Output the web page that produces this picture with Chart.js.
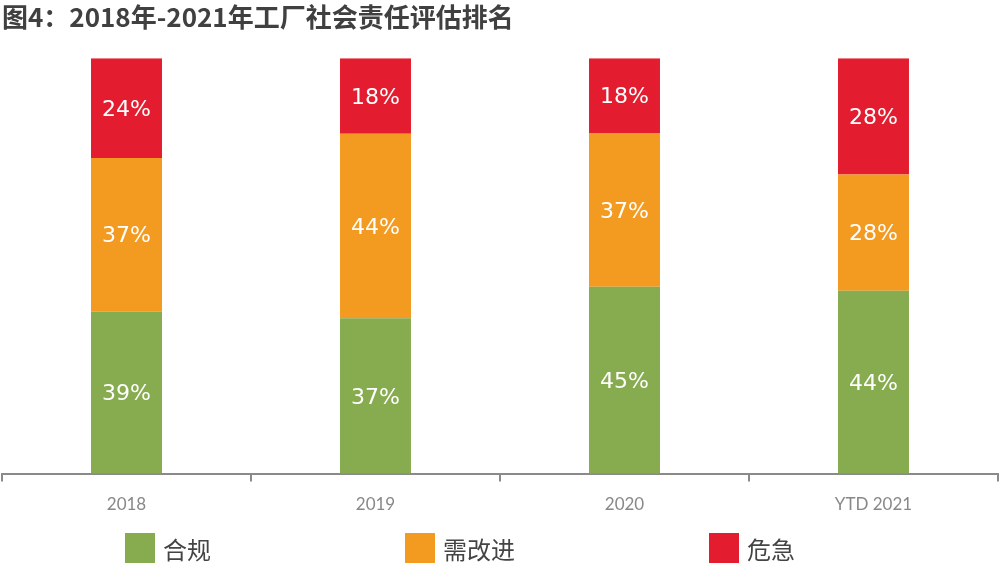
<!DOCTYPE html>
<html lang="zh">
<head>
<meta charset="utf-8">
<title>2018年-2021年工厂社会责任评估排名</title>
<script src="https://cdn.jsdelivr.net/npm/chart.js@4/dist/chart.umd.min.js"></script>
<style>
  html, body { margin: 0; padding: 0; background: #fff; }
  #wrap { position: relative; width: 1000px; height: 565px; overflow: hidden; }
  #legend {
    position: absolute; left: 125px; top: 533px;
    display: flex; gap: 194px;
    font-family: "Noto Sans CJK SC", "Noto Sans", sans-serif;
    font-size: 24px; color: #444;
  }
  .item { display: flex; align-items: center; height: 30px; }
  .box { width: 30px; height: 30px; margin-right: 8px; }
</style>
</head>
<body>
<div id="wrap">
  <canvas id="grafico" width="1000" height="565"></canvas>
  <div id="legend"></div>
</div>
<script>
// dados (percentuais)
const categories = ['2018', '2019', '2020', 'YTD 2021'];
const seriesNames = ['合规', '需改进', '危急'];
const compliant = [39, 37.4, 45, 44];
const needsImprovement = [37, 44.4, 37, 28];
const critical = [24, 18.2, 18, 28];

const colors = ['#87ab4f', '#f39a21', '#e31d2f'];

// rótulos brancos no meio de cada segmento
const segmentLabels = {
  id: 'segmentLabels',
  afterDatasetsDraw(chart) {
    const ctx = chart.ctx;
    ctx.save();
    ctx.fillStyle = '#fff';
    ctx.font = '22px "DejaVu Sans", sans-serif';
    ctx.textAlign = 'center';
    ctx.textBaseline = 'middle';
    chart.data.datasets.forEach((ds, i) => {
      chart.getDatasetMeta(i).data.forEach((bar, j) => {
        const y = (bar.y + bar.base) / 2 + 2; // leve ajuste vertical
        ctx.fillText(Math.round(ds.data[j]) + '%', bar.x, y);
      });
    });
    ctx.restore();
  }
};

const ctx = document.getElementById('grafico').getContext('2d');
const chart = new Chart(ctx, {
  type: 'bar',
  data: {
    labels: categories,
    datasets: [
      { label: seriesNames[0], data: compliant, backgroundColor: colors[0] },
      { label: seriesNames[1], data: needsImprovement, backgroundColor: colors[1] },
      { label: seriesNames[2], data: critical, backgroundColor: colors[2] }
    ]
  },
  options: {
    responsive: false,
    animation: false,
    layout: { padding: { left: 2, right: 2, top: 0, bottom: 37 } },
    datasets: { bar: { categoryPercentage: 1, barPercentage: 0.285 } },
    plugins: {
      legend: { display: false },
      tooltip: { enabled: false },
      title: {
        display: true,
        text: '图4：2018年-2021年工厂社会责任评估排名',
        align: 'start',
        color: '#404040',
        font: { family: '"Noto Sans CJK SC", sans-serif', size: 26, weight: 'bold' },
        padding: { top: 2, bottom: 25 }
      }
    },
    scales: {
      x: {
        stacked: true,
        border: { display: true, color: '#8a8a8a', width: 2 },
        grid: {
          offset: true,
          drawOnChartArea: false,
          drawTicks: true,
          tickLength: 8,
          color: '#8a8a8a',
          lineWidth: 2
        },
        ticks: {
          color: '#888',
          padding: 13,
          font: { family: 'Lato, "Open Sans", sans-serif', size: 17 }
        }
      },
      y: {
        stacked: true,
        display: false,
        min: 0,
        max: 100
      }
    }
  },
  plugins: [segmentLabels]
});

// legenda em HTML, gerada a partir dos datasets
const legendEl = document.getElementById('legend');
chart.data.datasets.forEach(ds => {
  const item = document.createElement('div');
  item.className = 'item';
  const box = document.createElement('span');
  box.className = 'box';
  box.style.background = ds.backgroundColor;
  const txt = document.createElement('span');
  txt.textContent = ds.label;
  item.appendChild(box);
  item.appendChild(txt);
  legendEl.appendChild(item);
});
</script>
</body>
</html>
